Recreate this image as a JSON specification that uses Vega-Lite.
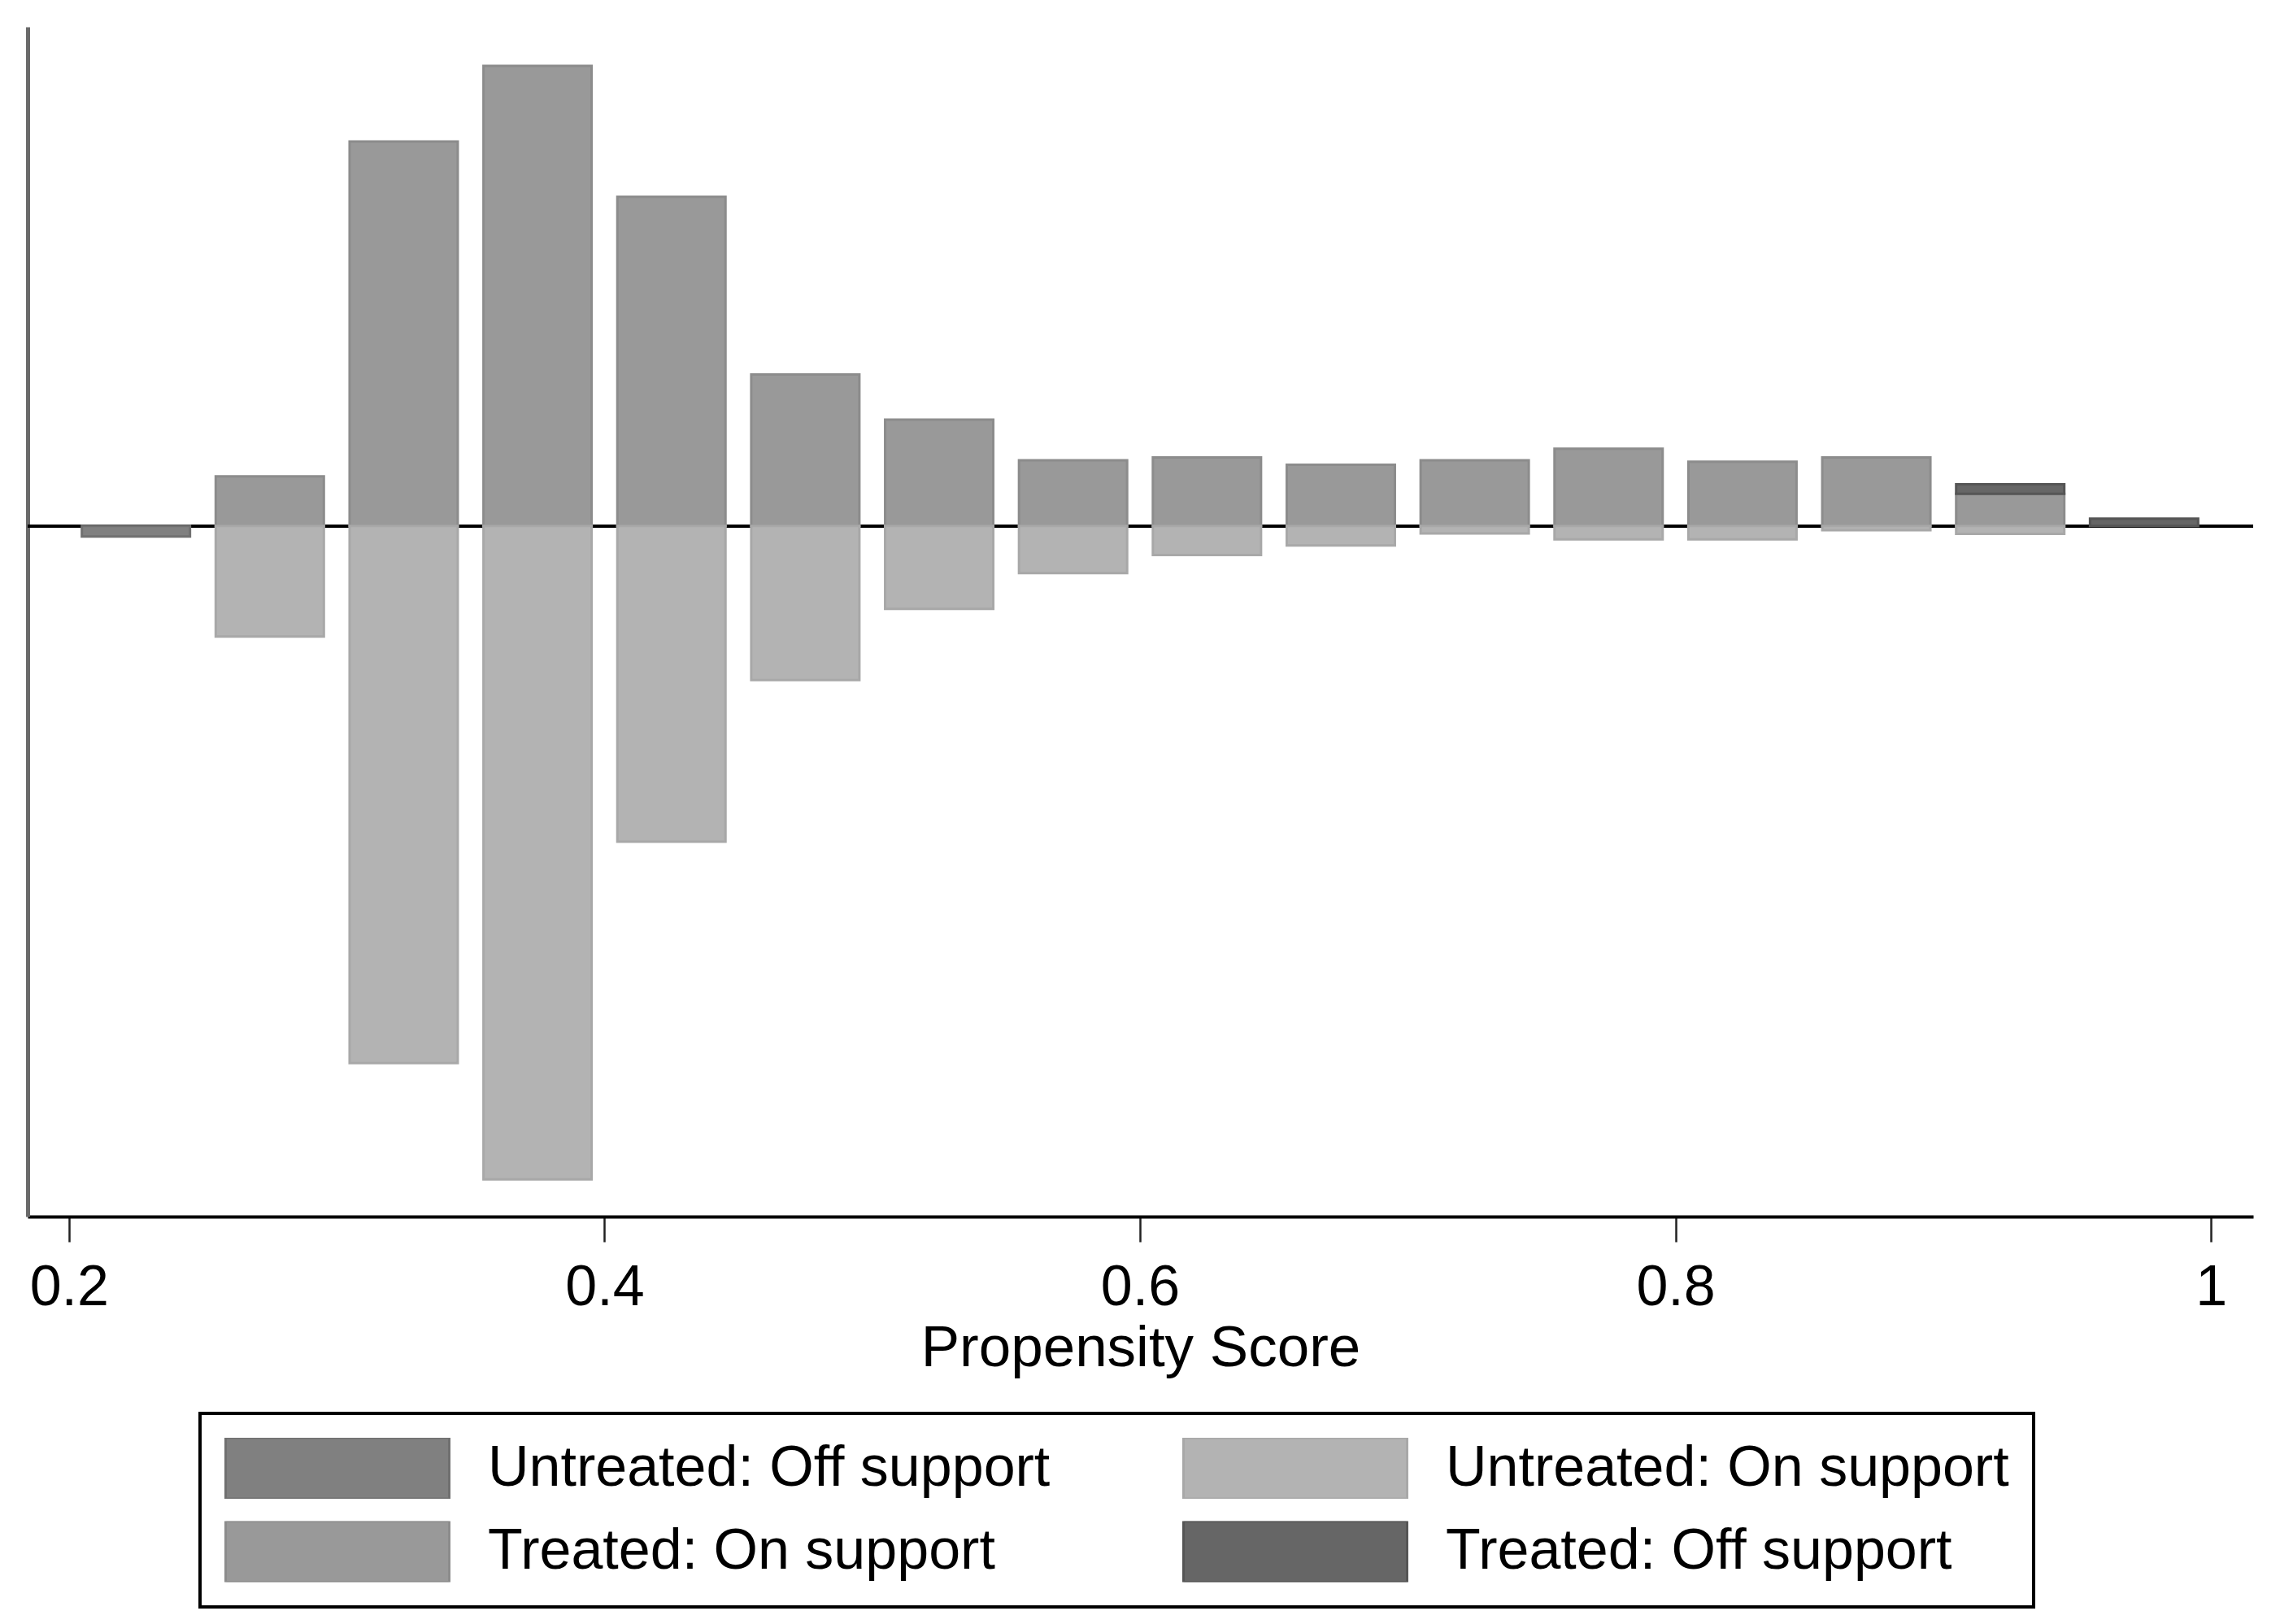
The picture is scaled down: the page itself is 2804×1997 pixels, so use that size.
{
  "$schema": "https://vega.github.io/schema/vega-lite/v6.json",
  "width": 2737,
  "height": 1463,
  "autosize": "none",
  "padding": {"left": 34, "top": 33, "right": 33, "bottom": 501},
  "background": "white",
  "config": {"font": "Liberation Sans", "view": {"stroke": null}},
  "data": {
    "values": [
      {"score": 0.225, "group": "Untreated: Off support", "freq": -7.4, "layer": 1},
      {"score": 0.275, "group": "Treated: On support", "freq": 34, "layer": 1},
      {"score": 0.325, "group": "Treated: On support", "freq": 264, "layer": 1},
      {"score": 0.375, "group": "Treated: On support", "freq": 316, "layer": 1},
      {"score": 0.425, "group": "Treated: On support", "freq": 226, "layer": 1},
      {"score": 0.475, "group": "Treated: On support", "freq": 104, "layer": 1},
      {"score": 0.525, "group": "Treated: On support", "freq": 73, "layer": 1},
      {"score": 0.575, "group": "Treated: On support", "freq": 45, "layer": 1},
      {"score": 0.625, "group": "Treated: On support", "freq": 47, "layer": 1},
      {"score": 0.675, "group": "Treated: On support", "freq": 42, "layer": 1},
      {"score": 0.725, "group": "Treated: On support", "freq": 45, "layer": 1},
      {"score": 0.775, "group": "Treated: On support", "freq": 53, "layer": 1},
      {"score": 0.825, "group": "Treated: On support", "freq": 44, "layer": 1},
      {"score": 0.875, "group": "Treated: On support", "freq": 47, "layer": 1},
      {"score": 0.925, "group": "Treated: On support", "freq": 22, "layer": 1},
      {"score": 0.925, "group": "Treated: Off support", "freq": 6.5, "layer": 2},
      {"score": 0.975, "group": "Treated: Off support", "freq": 5, "layer": 2},
      {"score": 0.275, "group": "Untreated: On support", "freq": -76, "layer": 1},
      {"score": 0.325, "group": "Untreated: On support", "freq": -369, "layer": 1},
      {"score": 0.375, "group": "Untreated: On support", "freq": -449, "layer": 1},
      {"score": 0.425, "group": "Untreated: On support", "freq": -217, "layer": 1},
      {"score": 0.475, "group": "Untreated: On support", "freq": -106, "layer": 1},
      {"score": 0.525, "group": "Untreated: On support", "freq": -57, "layer": 1},
      {"score": 0.575, "group": "Untreated: On support", "freq": -32.5, "layer": 1},
      {"score": 0.625, "group": "Untreated: On support", "freq": -20, "layer": 1},
      {"score": 0.675, "group": "Untreated: On support", "freq": -13.5, "layer": 1},
      {"score": 0.725, "group": "Untreated: On support", "freq": -5.2, "layer": 1},
      {"score": 0.775, "group": "Untreated: On support", "freq": -9.3, "layer": 1},
      {"score": 0.825, "group": "Untreated: On support", "freq": -9.3, "layer": 1},
      {"score": 0.875, "group": "Untreated: On support", "freq": -3, "layer": 1},
      {"score": 0.925, "group": "Untreated: On support", "freq": -5.5, "layer": 1}
    ]
  },
  "layer": [
    {
      "mark": {"type": "rule", "color": "black", "strokeWidth": 3.5},
      "encoding": {
        "y": {
          "datum": 0,
          "type": "quantitative",
          "scale": {"domain": [-474.5, 342.8], "nice": false},
          "axis": {"title": null, "labels": false, "ticks": false, "grid": false, "domainColor": "#6a6a6a", "domainWidth": 5}
        }
      }
    },
    {
      "mark": {"type": "bar", "size": 133, "strokeWidth": 3},
      "encoding": {
        "x": {
          "field": "score",
          "type": "quantitative",
          "scale": {"domain": [0.18608, 1.01422], "nice": false, "zero": false},
          "axis": {
            "values": [0.2, 0.4, 0.6, 0.8, 1],
            "format": "~g",
            "title": "Propensity Score",
            "grid": false,
            "domainColor": "black",
            "domainWidth": 4,
            "tickColor": "#222222",
            "tickWidth": 2.5,
            "tickSize": 31,
            "labelFont": "Liberation Sans",
            "labelFontSize": 70,
            "labelColor": "black",
            "labelPadding": 22,
            "labelFlush": false,
            "labelOverlap": false,
            "titleFont": "Liberation Sans",
            "titleFontSize": 71,
            "titleFontWeight": "normal",
            "titleColor": "black",
            "titlePadding": 5
          }
        },
        "y": {
          "field": "freq",
          "type": "quantitative",
          "stack": "zero",
          "scale": {"domain": [-474.5, 342.8], "nice": false},
          "axis": {"title": null, "labels": false, "ticks": false, "grid": false, "domainColor": "#6a6a6a", "domainWidth": 5}
        },
        "order": {"field": "layer", "type": "quantitative"},
        "fill": {
          "field": "group",
          "type": "nominal",
          "scale": {
            "domain": ["Untreated: Off support", "Untreated: On support", "Treated: On support", "Treated: Off support"],
            "range": ["#808080", "#b3b3b3", "#999999", "#666666"]
          },
          "legend": {
            "orient": "none",
            "legendX": 212,
            "legendY": 1705,
            "title": null,
            "columns": 2,
            "direction": "horizontal",
            "symbolType": "M-1,-0.2727H1V0.2727H-1Z",
            "symbolSize": 75625,
            "symbolStrokeWidth": 3,
            "symbolOpacity": 1,
            "clipHeight": 75,
            "rowPadding": 27.5,
            "columnPadding": 162,
            "labelOffset": 46,
            "labelFont": "Liberation Sans",
            "labelFontSize": 70,
            "labelColor": "black",
            "labelLimit": 0,
            "padding": 30,
            "strokeColor": "black",
            "fillColor": "white",
            "encode": {"legend": {"update": {"strokeWidth": {"value": 4}}}}
          }
        },
        "stroke": {
          "field": "group",
          "type": "nominal",
          "scale": {
            "domain": ["Untreated: Off support", "Untreated: On support", "Treated: On support", "Treated: Off support"],
            "range": ["#707070", "#a8a8a8", "#8c8c8c", "#555555"]
          },
          "legend": {
            "orient": "none",
            "legendX": 212,
            "legendY": 1705,
            "title": null,
            "columns": 2,
            "direction": "horizontal",
            "symbolType": "M-1,-0.2727H1V0.2727H-1Z",
            "symbolSize": 75625,
            "symbolStrokeWidth": 3,
            "symbolOpacity": 1,
            "clipHeight": 75,
            "rowPadding": 27.5,
            "columnPadding": 162,
            "labelOffset": 46,
            "labelFont": "Liberation Sans",
            "labelFontSize": 70,
            "labelColor": "black",
            "labelLimit": 0,
            "padding": 30,
            "strokeColor": "black",
            "fillColor": "white",
            "encode": {"legend": {"update": {"strokeWidth": {"value": 4}}}}
          }
        }
      }
    }
  ]
}
